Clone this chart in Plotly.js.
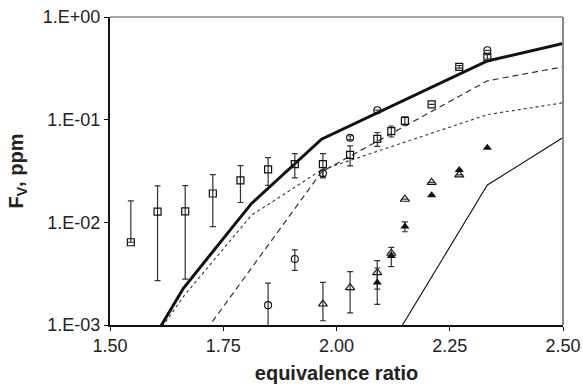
<!DOCTYPE html>
<html>
<head>
<meta charset="utf-8">
<script src="https://cdn.plot.ly/plotly-3.0.1.min.js"></script>
<style>html,body{margin:0;padding:0;background:#fff;}#chart{width:583px;height:384px;}</style>
</head>
<body>
<div id="chart"></div>
<script>
// ---- model curves ----
const thickX = [1.60, 1.662, 1.812, 1.967, 2.333, 2.50];
const thickY = [0.00079, 0.00228, 0.0152, 0.0645, 0.373, 0.551];
const dashX = [1.70, 1.967, 2.333, 2.50];
const dashY = [0.00075, 0.031, 0.239, 0.327];
const dotX = [1.60, 1.662, 1.812, 1.967, 2.333, 2.50];
const dotY = [0.00077, 0.00189, 0.0117, 0.0324, 0.112, 0.146];
const thinX = [2.121, 2.333, 2.50];
const thinY = [0.00066, 0.0231, 0.067];

// ---- measurements ----
const sqX = [1.546, 1.605, 1.666, 1.727, 1.788, 1.849, 1.908, 1.970, 2.030, 2.090, 2.121, 2.151, 2.210, 2.271, 2.333];
const sqY = [0.0064, 0.0127, 0.0128, 0.0191, 0.0256, 0.0328, 0.0369, 0.0369, 0.0455, 0.065, 0.0773, 0.0973, 0.1406, 0.327, 0.410];
const sqErrPlus = [0.0098, 0.0100, 0.0100, 0.0100, 0.0100, 0.0099, 0.0098, 0.0098, 0.0100, 0.0100, 0.0095, 0.0090, 0.0, 0.010, 0.020];
const sqErrMinus = [0.0, 0.0100, 0.0100, 0.0100, 0.0100, 0.0099, 0.0098, 0.0098, 0.0100, 0.0100, 0.0095, 0.0090, 0.0, 0.010, 0.020];

const ciX = [1.849, 1.908, 1.970, 2.030, 2.090, 2.333];
const ciY = [0.00156, 0.0044, 0.0300, 0.0667, 0.1236, 0.474];
const ciErr = [0.0010, 0.0010, 0.0020, 0.0030, 0.0, 0.0];

const otX = [1.970, 2.030, 2.090, 2.121, 2.151, 2.210, 2.271];
const otY = [0.0016, 0.00231, 0.00324, 0.0050, 0.0168, 0.0245, 0.0290];
const otErrPlus = [0.0010, 0.0010, 0.0010, 0.0, 0.0, 0.0, 0.0];
const otErrMinus = [0.0005, 0.0010, 0.0010, 0.0, 0.0, 0.0, 0.0];

const ftX = [2.090, 2.121, 2.151, 2.210, 2.271, 2.333];
const ftY = [0.00259, 0.0047, 0.0091, 0.0184, 0.0323, 0.0532];
const ftErr = [0.0010, 0.0010, 0.0010, 0.0, 0.0, 0.0];

const xTickVals = [1.50, 1.75, 2.00, 2.25, 2.50];
const xTickText = ['1.50', '1.75', '2.00', '2.25', '2.50'];
const yTickVals = [0.001, 0.01, 0.1, 1];
const yTickText = ['1.E-03', '1.E-02', '1.E-01', '1.E+00'];

const errStyle = {color: '#333', thickness: 1.2, width: 3};

const traces = [
  {x: dotX, y: dotY, mode: 'lines', line: {color: '#444', width: 1.2, dash: 'dot'}},
  {x: dashX, y: dashY, mode: 'lines', line: {color: '#333', width: 1.2, dash: '6px,4px'}},
  {x: thinX, y: thinY, mode: 'lines', line: {color: '#111', width: 1.1}},
  {x: thickX, y: thickY, mode: 'lines', line: {color: '#111', width: 3}},
  {x: sqX, y: sqY, mode: 'markers', marker: {symbol: 'square-open', size: 7, color: '#111', line: {width: 1.2}},
   error_y: Object.assign({type: 'data', symmetric: false, array: sqErrPlus, arrayminus: sqErrMinus, visible: true}, errStyle)},
  {x: ciX, y: ciY, mode: 'markers', marker: {symbol: 'circle-open', size: 7, color: '#111', line: {width: 1.1}},
   error_y: Object.assign({type: 'data', array: ciErr, visible: true}, errStyle)},
  {x: otX, y: otY, mode: 'markers', marker: {symbol: 'triangle-up-open', size: 8, color: '#111', line: {width: 1.1}},
   error_y: Object.assign({type: 'data', symmetric: false, array: otErrPlus, arrayminus: otErrMinus, visible: true}, errStyle)},
  {x: ftX, y: ftY, mode: 'markers', marker: {symbol: 'triangle-up', size: 8, color: '#111'},
   error_y: Object.assign({type: 'data', array: ftErr, visible: true}, errStyle)}
];

const font = {family: '"Liberation Sans", Arial, sans-serif', color: '#222'};

const layout = {
  width: 583, height: 384,
  margin: {l: 110, r: 20, t: 17, b: 59},
  paper_bgcolor: '#fff', plot_bgcolor: '#fff',
  showlegend: false,
  font: Object.assign({size: 18}, font),
  xaxis: {
    range: [1.5, 2.5], tickvals: xTickVals, ticktext: xTickText,
    showgrid: false, zeroline: false,
    showline: true, linecolor: '#111', linewidth: 1.5,
    ticks: 'outside', ticklen: 4, tickcolor: '#111', tickwidth: 1,
    tickfont: Object.assign({size: 18}, font),
    title: {text: '<b>equivalence ratio</b>', font: Object.assign({size: 20}, font), standoff: 16}
  },
  yaxis: {
    type: 'log', range: [-3, 0], tickvals: yTickVals, ticktext: yTickText,
    showgrid: false, zeroline: false,
    showline: true, linecolor: '#111', linewidth: 2,
    ticks: 'outside', ticklen: 4, tickcolor: '#111', tickwidth: 1,
    tickfont: Object.assign({size: 18}, font),
    title: {text: '<b>F<sub>V</sub>, ppm</b>', font: Object.assign({size: 20}, font), standoff: 14}
  },
  shapes: [
    {type: 'line', xref: 'paper', yref: 'paper', x0: 0, x1: 1, y0: 1, y1: 1, line: {color: '#888', width: 1.5}},
    {type: 'line', xref: 'paper', yref: 'paper', x0: 1, x1: 1, y0: 0, y1: 1, line: {color: '#888', width: 2}}
  ]
};

Plotly.newPlot('chart', traces, layout, {staticPlot: true, displayModeBar: false});
</script>
</body>
</html>
